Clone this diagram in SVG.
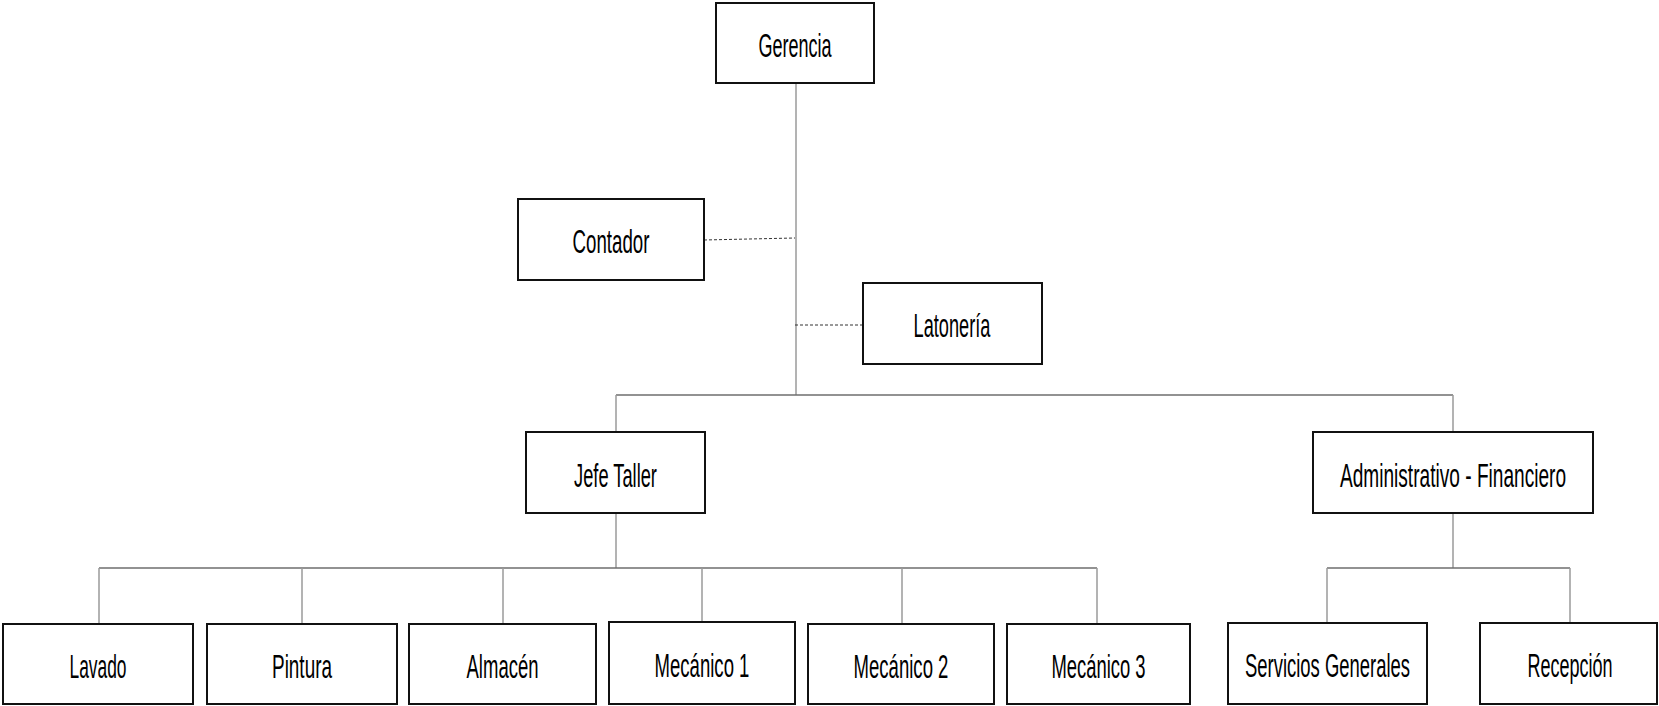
<svg xmlns="http://www.w3.org/2000/svg" width="1659" height="706" viewBox="0 0 1659 706">
  <style>
    .box { fill: #ffffff; stroke: #111111; stroke-width: 2; }
    .lbl { font-family: "Liberation Sans", Arial, sans-serif; font-size: 34px; fill: #000000; text-anchor: middle; }
    .link { fill: none; stroke: #9a9a9a; stroke-width: 1.5; }
    .bus { fill: none; stroke: #6e6e6e; stroke-width: 1.5; }
    .staff { fill: none; stroke: #333333; stroke-width: 1; stroke-dasharray: 3 2; }
  </style>
  <rect width="1659" height="706" fill="#ffffff"/>

  <!-- reporting lines -->
  <g id="connectors">
    <path class="link" d="M796 83 V395"/>
    <path class="bus" d="M616 395 H1453"/>
    <path class="link" d="M616 395 V432 M1453 395 V432"/>
    <path class="staff" d="M704 240 L795 238"/>
    <path class="staff" d="M795 325 H863"/>
    <!-- Jefe Taller branch -->
    <path class="link" d="M616 513 V568"/>
    <path class="bus" d="M99 568 H1097"/>
    <path class="link" d="M99 568 V624 M302 568 V624 M503 568 V624 M702 568 V622 M902 568 V624 M1097 568 V624"/>
    <!-- Administrativo branch -->
    <path class="link" d="M1453 513 V568"/>
    <path class="bus" d="M1327 568 H1570"/>
    <path class="link" d="M1327 568 V623 M1570 568 V623"/>
  </g>

  <!-- labels use a condensed setting: horizontal scale 0.6, widths given in unscaled units -->
  <g id="gerencia">
    <rect class="box" x="716" y="3" width="158" height="80"/>
    <text class="lbl" transform="translate(795 57) scale(0.6 1)" textLength="122" lengthAdjust="spacingAndGlyphs">Gerencia</text>
  </g>
  <g id="contador">
    <rect class="box" x="518" y="199" width="186" height="81"/>
    <text class="lbl" transform="translate(611 253) scale(0.6 1)" textLength="128" lengthAdjust="spacingAndGlyphs">Contador</text>
  </g>
  <g id="latoneria">
    <rect class="box" x="863" y="283" width="179" height="81"/>
    <text class="lbl" transform="translate(952 337) scale(0.6 1)" textLength="128" lengthAdjust="spacingAndGlyphs">Latonería</text>
  </g>
  <g id="jefe-taller">
    <rect class="box" x="526" y="432" width="179" height="81"/>
    <text class="lbl" transform="translate(615.5 487) scale(0.6 1)" textLength="138" lengthAdjust="spacingAndGlyphs">Jefe Taller</text>
  </g>
  <g id="administrativo-financiero">
    <rect class="box" x="1313" y="432" width="280" height="81"/>
    <text class="lbl" transform="translate(1453 487) scale(0.6 1)" textLength="377" lengthAdjust="spacingAndGlyphs">Administrativo - Financiero</text>
  </g>

  <g id="lavado">
    <rect class="box" x="3" y="624" width="190" height="80"/>
    <text class="lbl" transform="translate(98 678) scale(0.6 1)" textLength="95" lengthAdjust="spacingAndGlyphs">Lavado</text>
  </g>
  <g id="pintura">
    <rect class="box" x="207" y="624" width="190" height="80"/>
    <text class="lbl" transform="translate(302 678) scale(0.6 1)" textLength="100" lengthAdjust="spacingAndGlyphs">Pintura</text>
  </g>
  <g id="almacen">
    <rect class="box" x="409" y="624" width="187" height="80"/>
    <text class="lbl" transform="translate(502.5 678) scale(0.6 1)" textLength="120" lengthAdjust="spacingAndGlyphs">Almacén</text>
  </g>
  <g id="mecanico-1">
    <rect class="box" x="609" y="622" width="186" height="82"/>
    <text class="lbl" transform="translate(702 677) scale(0.6 1)" textLength="158" lengthAdjust="spacingAndGlyphs">Mecánico 1</text>
  </g>
  <g id="mecanico-2">
    <rect class="box" x="808" y="624" width="186" height="80"/>
    <text class="lbl" transform="translate(901 678) scale(0.6 1)" textLength="158" lengthAdjust="spacingAndGlyphs">Mecánico 2</text>
  </g>
  <g id="mecanico-3">
    <rect class="box" x="1007" y="624" width="183" height="80"/>
    <text class="lbl" transform="translate(1098.5 678) scale(0.6 1)" textLength="157" lengthAdjust="spacingAndGlyphs">Mecánico 3</text>
  </g>
  <g id="servicios-generales">
    <rect class="box" x="1228" y="623" width="199" height="81"/>
    <text class="lbl" transform="translate(1327.5 677) scale(0.6 1)" textLength="275" lengthAdjust="spacingAndGlyphs">Servicios Generales</text>
  </g>
  <g id="recepcion">
    <rect class="box" x="1480" y="623" width="177" height="81"/>
    <text class="lbl" transform="translate(1570 677) scale(0.6 1)" textLength="142" lengthAdjust="spacingAndGlyphs">Recepción</text>
  </g>
</svg>
